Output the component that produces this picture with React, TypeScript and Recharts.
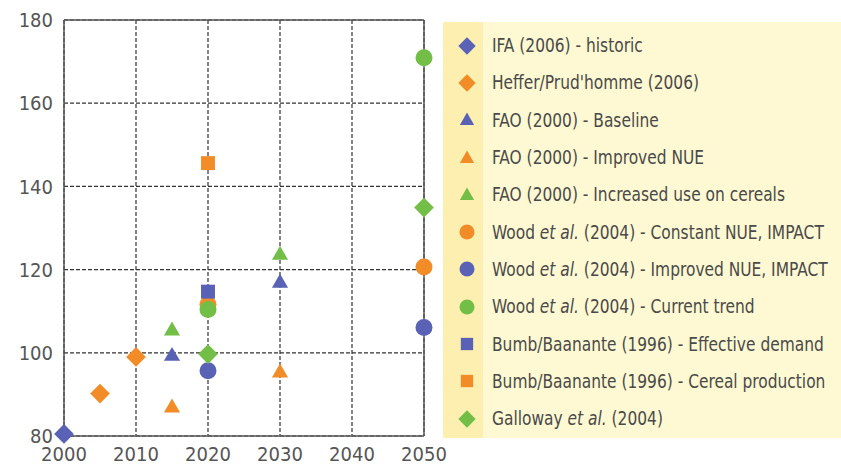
import React from 'react';
import {
  ScatterChart,
  Scatter,
  XAxis,
  YAxis,
  CartesianGrid,
  ReferenceLine
} from 'recharts';

// Fertiliser N demand projections (Tg N)

type Pt = { year: number; value: number };

const yearTicks = [2000, 2010, 2020, 2030, 2040, 2050];
const valueTicks = [80, 100, 120, 140, 160, 180];

const ifaHistoric: Pt[] = [{ year: 2000, value: 80.5 }];
const hefferPrudhomme: Pt[] = [
  { year: 2005, value: 90.2 },
  { year: 2010, value: 99 }
];
const faoBaseline: Pt[] = [
  { year: 2015, value: 99.4 },
  { year: 2030, value: 117 }
];
const faoImprovedNue: Pt[] = [
  { year: 2015, value: 87 },
  { year: 2030, value: 95.4 }
];
const faoCereals: Pt[] = [
  { year: 2015, value: 105.5 },
  { year: 2030, value: 123.7 }
];
const woodConstant: Pt[] = [
  { year: 2020, value: 111.6 },
  { year: 2050, value: 120.6 }
];
const woodImproved: Pt[] = [
  { year: 2020, value: 95.7 },
  { year: 2050, value: 106.1 }
];
const woodTrend: Pt[] = [
  { year: 2020, value: 110.4 },
  { year: 2050, value: 170.9 }
];
const bumbDemand: Pt[] = [{ year: 2020, value: 114.7 }];
const bumbCereal: Pt[] = [{ year: 2020, value: 145.6 }];
const galloway: Pt[] = [
  { year: 2020, value: 99.7 },
  { year: 2050, value: 134.9 }
];

const BLUE = '#5a62b6';
const ORANGE = '#f28c26';
const GREEN = '#72be46';

type ShapeKind = 'diamond' | 'triangle' | 'circle' | 'square';

interface SeriesDef {
  key: string;
  data: Pt[];
  color: string;
  shape: ShapeKind;
  label: [string, string, string]; // before / italic / after
}

const series: SeriesDef[] = [
  { key: 'ifa', data: ifaHistoric, color: BLUE, shape: 'diamond', label: ['IFA (2006) - historic', '', ''] },
  { key: 'heffer', data: hefferPrudhomme, color: ORANGE, shape: 'diamond', label: ["Heffer/Prud'homme (2006)", '', ''] },
  { key: 'faoBase', data: faoBaseline, color: BLUE, shape: 'triangle', label: ['FAO (2000) - Baseline', '', ''] },
  { key: 'faoNue', data: faoImprovedNue, color: ORANGE, shape: 'triangle', label: ['FAO (2000) - Improved NUE', '', ''] },
  { key: 'faoCer', data: faoCereals, color: GREEN, shape: 'triangle', label: ['FAO (2000) - Increased use on cereals', '', ''] },
  { key: 'woodC', data: woodConstant, color: ORANGE, shape: 'circle', label: ['Wood ', 'et al.', ' (2004) - Constant NUE, IMPACT'] },
  { key: 'woodI', data: woodImproved, color: BLUE, shape: 'circle', label: ['Wood ', 'et al.', ' (2004) - Improved NUE, IMPACT'] },
  { key: 'woodT', data: woodTrend, color: GREEN, shape: 'circle', label: ['Wood ', 'et al.', ' (2004) - Current trend'] },
  { key: 'bumbD', data: bumbDemand, color: BLUE, shape: 'square', label: ['Bumb/Baanante (1996) - Effective demand', '', ''] },
  { key: 'bumbC', data: bumbCereal, color: ORANGE, shape: 'square', label: ['Bumb/Baanante (1996) - Cereal production', '', ''] },
  { key: 'gall', data: galloway, color: GREEN, shape: 'diamond', label: ['Galloway ', 'et al.', ' (2004)'] }
];

const FONT = '"DejaVu Sans Condensed", "Open Sans", sans-serif';

const Marker = ({ cx, cy, kind, color, s }: { cx: number; cy: number; kind: ShapeKind; color: string; s: number }) => {
  if (kind === 'diamond') {
    const r = s * 0.58;
    return <polygon points={`${cx},${cy - r} ${cx + r},${cy} ${cx},${cy + r} ${cx - r},${cy}`} fill={color} />;
  }
  if (kind === 'triangle') {
    const w = s * 0.95;
    const h = s * 0.82;
    return (
      <polygon
        points={`${cx},${cy - h * 0.6} ${cx + w / 2},${cy + h * 0.4} ${cx - w / 2},${cy + h * 0.4}`}
        fill={color}
      />
    );
  }
  if (kind === 'circle') {
    return <circle cx={cx} cy={cy} r={s * 0.5} fill={color} />;
  }
  const q = s * 0.82;
  return <rect x={cx - q / 2} y={cy - q / 2} width={q} height={q} fill={color} />;
};

const Legend = () => (
  <div
    style={{
      position: 'absolute',
      left: 443,
      top: 22,
      width: 420,
      height: 416,
      background: '#fef9d2',
      fontFamily: FONT,
      fontSize: 19.5,
      color: '#4a4a4a',
      paddingTop: 5,
      boxSizing: 'border-box',
      overflow: 'hidden'
    }}
  >
    <div style={{ position: 'absolute', left: 0, top: 0, width: 40, height: '100%', background: '#fcefb0' }} />
    {series.map((s) => (
      <div key={s.key} style={{ position: 'relative', height: 37.3, display: 'flex', alignItems: 'center' }}>
        <svg width={48} height={20} style={{ flex: 'none' }}>
          <Marker cx={24} cy={10} kind={s.shape} color={s.color} s={15} />
        </svg>
        <span
          style={{
            whiteSpace: 'nowrap',
            marginLeft: 1,
            display: 'inline-block',
            transform: 'scaleX(0.88)',
            transformOrigin: 'left center'
          }}
        >
          {s.label[0]}
          {s.label[1] && <i>{s.label[1]}</i>}
          {s.label[2]}
        </span>
      </div>
    ))}
  </div>
);

export default function App() {
  const tickStyle = { fontSize: 20, fill: '#555', fontFamily: FONT };
  return (
    <div style={{ position: 'absolute', left: 0, top: 0, width: 841, height: 471, background: '#fff', overflow: 'hidden' }}>
      <ScatterChart width={841} height={471} margin={{ top: 20, right: 417, bottom: 0, left: 0 }}>
        <CartesianGrid stroke="#333" strokeDasharray="4 2" strokeWidth={1.2} />
        <XAxis
          type="number"
          dataKey="year"
          domain={[2000, 2050]}
          ticks={yearTicks}
          interval={0}
          height={35}
          tickLine={false}
          tickSize={0}
          tickMargin={11}
          axisLine={{ stroke: '#555', strokeWidth: 1.5 }}
          tick={tickStyle}
        />
        <YAxis
          type="number"
          dataKey="value"
          domain={[80, 180]}
          ticks={valueTicks}
          interval={0}
          width={64}
          tickLine={false}
          tickSize={0}
          tickMargin={11}
          axisLine={{ stroke: '#555', strokeWidth: 1.5 }}
          tick={tickStyle}
        />
        <ReferenceLine y={180} stroke="#555" strokeWidth={1.5} />
        <ReferenceLine x={2050} stroke="#555" strokeWidth={1.5} />
        {series.map((s) => (
          <Scatter
            key={s.key}
            name={s.key}
            data={s.data}
            isAnimationActive={false}
            shape={(p: any) => <Marker cx={p.cx} cy={p.cy} kind={s.shape} color={s.color} s={17} />}
          />
        ))}
      </ScatterChart>
      <Legend />
    </div>
  );
}
